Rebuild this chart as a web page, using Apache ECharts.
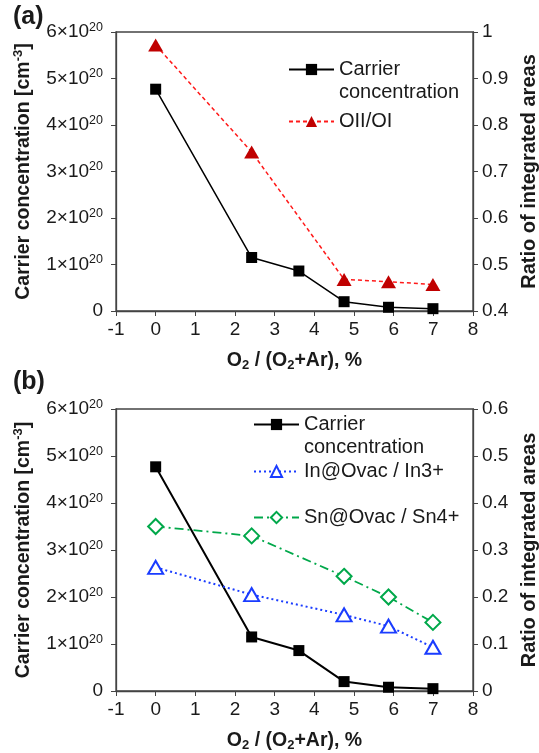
<!DOCTYPE html>
<html lang="en">
<head>
  <meta charset="UTF-8">
  <title>carrier concentration vs O2</title>
  <style>
    html, body { margin: 0; padding: 0; background: #fff; }
    #chart { width: 539px; height: 753px; }
  </style>
</head>
<body>
  <div id="chart"></div>
  <script src="https://cdn.jsdelivr.net/npm/echarts@6/dist/echarts.min.js"></script>
  <script>
    // O2 / (O2+Ar), %
    var o2Ratio = [0, 2.42, 3.61, 4.75, 5.87, 6.99]
    // carrier concentration, in units of 1e20 cm^-3
    var carrier = [4.77, 1.15, 0.86, 0.2, 0.08, 0.05]
    // panel (a), OII/OI (no point at 3.61)
    var o2ForOx = [0, 2.42, 4.75, 5.87, 6.99]
    var oxRatio = [0.972, 0.742, 0.468, 0.463, 0.457]
    // panel (b)
    var o2ForIonic = [0, 2.42, 4.75, 5.87, 6.99]
    var inRatio = [0.263, 0.205, 0.162, 0.138, 0.093]
    var snRatio = [0.350, 0.330, 0.244, 0.200, 0.146]
    var xTicks = [-1, 8, 1]

    var font = 'Liberation Sans, Arial, sans-serif'
    var axisColor = '#444'
    var txt = '#1a1a1a'

    var pairs = function (xs, ys) {
      return xs.map(function (x, i) { return [x, ys[i]] })
    }

    var expLabel = function (v) {
      if (v === 0) return '0'
      return '{n|' + v + '×10}{s|20}'
    }

    var xAxisFor = function (gi) {
      return {
        type: 'value',
        gridIndex: gi,
        min: xTicks[0],
        max: xTicks[1],
        interval: xTicks[2],
        splitLine: { show: false },
        axisLine: { onZero: false, lineStyle: { color: axisColor, width: 1.3 } },
        axisTick: { inside: false, length: 5, lineStyle: { color: axisColor } },
        axisLabel: { color: txt, fontSize: 19, fontFamily: font, margin: 9 },
        name: '{t|O}{sb|2}{t| / (O}{sb|2}{t|+Ar), %}',
        nameLocation: 'middle',
        nameGap: 38,
        nameTextStyle: {
          rich: {
            t: { fontSize: 19.5, fontWeight: 'bold', fontFamily: font, color: txt, lineHeight: 23 },
            sb: { fontSize: 13, fontWeight: 'bold', fontFamily: font, color: txt, verticalAlign: 'bottom', lineHeight: 23 }
          }
        }
      }
    }

    var leftAxisFor = function (gi) {
      return {
        type: 'value',
        gridIndex: gi,
        position: 'left',
        min: 0,
        max: 6,
        interval: 1,
        splitLine: { show: false },
        axisLine: { show: true, onZero: false, lineStyle: { color: axisColor, width: 1.3 } },
        axisTick: { show: true, inside: false, length: 5, lineStyle: { color: axisColor } },
        axisLabel: {
          formatter: expLabel,
          margin: 13,
          color: txt,
          fontSize: 19,
          fontFamily: font,
          rich: {
            n: { fontSize: 19, fontFamily: font, color: txt, lineHeight: 22 },
            s: { fontSize: 12.5, fontFamily: font, color: txt, verticalAlign: 'top', lineHeight: 22 }
          }
        },
        name: '{t|Carrier concentration [cm}{sp|-3}{t|]}',
        nameLocation: 'middle',
        nameRotate: 90,
        nameGap: 81,
        nameTextStyle: {
          rich: {
            t: { fontSize: 19.5, fontWeight: 'bold', fontFamily: font, color: txt, lineHeight: 23 },
            sp: { fontSize: 13, fontWeight: 'bold', fontFamily: font, color: txt, verticalAlign: 'top', lineHeight: 23 }
          }
        }
      }
    }

    var rightAxisFor = function (gi, mn, mx) {
      return {
        type: 'value',
        gridIndex: gi,
        position: 'right',
        min: mn,
        max: mx,
        interval: 0.1,
        splitLine: { show: false },
        axisLine: { show: true, onZero: false, lineStyle: { color: axisColor, width: 1.3 } },
        axisTick: { show: true, inside: false, length: 5, lineStyle: { color: axisColor } },
        axisLabel: {
          formatter: function (v) { return String(+v.toFixed(1)) },
          margin: 9,
          color: txt,
          fontSize: 19,
          fontFamily: font
        },
        name: 'Ratio of integrated areas',
        nameLocation: 'middle',
        nameRotate: 90,
        nameGap: 45,
        nameTextStyle: { fontSize: 20, fontWeight: 'bold', fontFamily: font, color: txt }
      }
    }

    var legendAt = function (name, left, top, multi) {
      return {
        data: [name],
        orient: 'vertical',
        left: left,
        top: top,
        padding: 0,
        itemWidth: 45,
        itemHeight: 14,
        itemGap: 0,
        textStyle: {
          fontSize: 20,
          fontFamily: font,
          color: txt,
          lineHeight: 23
        },
        // blank first line keeps "Carrier" level with the icon
        formatter: multi ? ' \nCarrier\nconcentration' : '{name}',
        selectedMode: false
      }
    }

    var gridBox = function (top, height) {
      return {
        left: 116,
        top: top,
        width: 357,
        height: height,
        outerBoundsMode: 'none',
        containLabel: false,
        show: true,
        borderColor: axisColor,
        borderWidth: 1.3,
        backgroundColor: 'transparent'
      }
    }

    var option = {
      animation: false,
      backgroundColor: '#fff',
      graphic: [
        { type: 'text', left: 13, top: 5, style: { text: '(a)', fontSize: 25, fontWeight: 'bold', fontFamily: font, fill: txt } },
        { type: 'text', left: 13, top: 370, style: { text: '(b)', fontSize: 25, fontWeight: 'bold', fontFamily: font, fill: txt } }
      ],
      grid: [gridBox(32, 279), gridBox(409, 282)],
      legend: [
        legendAt('Carrier concentration (a)', 288, 35, true),
        legendAt('OII/OI', 288, 110, false),
        legendAt('Carrier concentration', 253, 390, true),
        legendAt('In@Ovac / In3+', 253, 460, false),
        legendAt('Sn@Ovac / Sn4+', 253, 506, false)
      ],
      xAxis: [xAxisFor(0), xAxisFor(1)],
      yAxis: [leftAxisFor(0), rightAxisFor(0, 0.4, 1), leftAxisFor(1), rightAxisFor(1, 0, 0.6)],
      series: [
        {
          name: 'Carrier concentration (a)',
          type: 'line',
          xAxisIndex: 0,
          yAxisIndex: 0,
          data: pairs(o2Ratio, carrier),
          symbol: 'rect',
          symbolSize: 11,
          lineStyle: { color: '#000', width: 1.5 },
          itemStyle: { color: '#000' },
          z: 3
        },
        {
          name: 'OII/OI',
          type: 'line',
          xAxisIndex: 0,
          yAxisIndex: 1,
          data: pairs(o2ForOx, oxRatio),
          symbol: 'triangle',
          symbolSize: [15, 13],
          lineStyle: { color: '#ff1a1a', width: 1.5, type: [4, 3] },
          itemStyle: { color: '#c00000' }
        },
        {
          name: 'Carrier concentration',
          type: 'line',
          xAxisIndex: 1,
          yAxisIndex: 2,
          data: pairs(o2Ratio, carrier),
          symbol: 'rect',
          symbolSize: 11,
          lineStyle: { color: '#000', width: 2 },
          itemStyle: { color: '#000' },
          z: 3
        },
        {
          name: 'In@Ovac / In3+',
          type: 'line',
          xAxisIndex: 1,
          yAxisIndex: 3,
          data: pairs(o2ForIonic, inRatio),
          symbol: 'triangle',
          symbolSize: [15, 13],
          lineStyle: { color: '#1a3cff', width: 2, type: [2, 3] },
          itemStyle: { color: '#fff', borderColor: '#1a3cff', borderWidth: 2 }
        },
        {
          name: 'Sn@Ovac / Sn4+',
          type: 'line',
          xAxisIndex: 1,
          yAxisIndex: 3,
          data: pairs(o2ForIonic, snRatio),
          symbol: 'diamond',
          symbolSize: [15, 15],
          lineStyle: { color: '#00a84a', width: 1.8, type: [9, 4, 2, 4] },
          itemStyle: { color: '#fff', borderColor: '#00a84a', borderWidth: 2 }
        }
      ]
    }

    var chart = echarts.init(document.getElementById('chart'))
    chart.setOption(option)
  </script>
</body>
</html>
